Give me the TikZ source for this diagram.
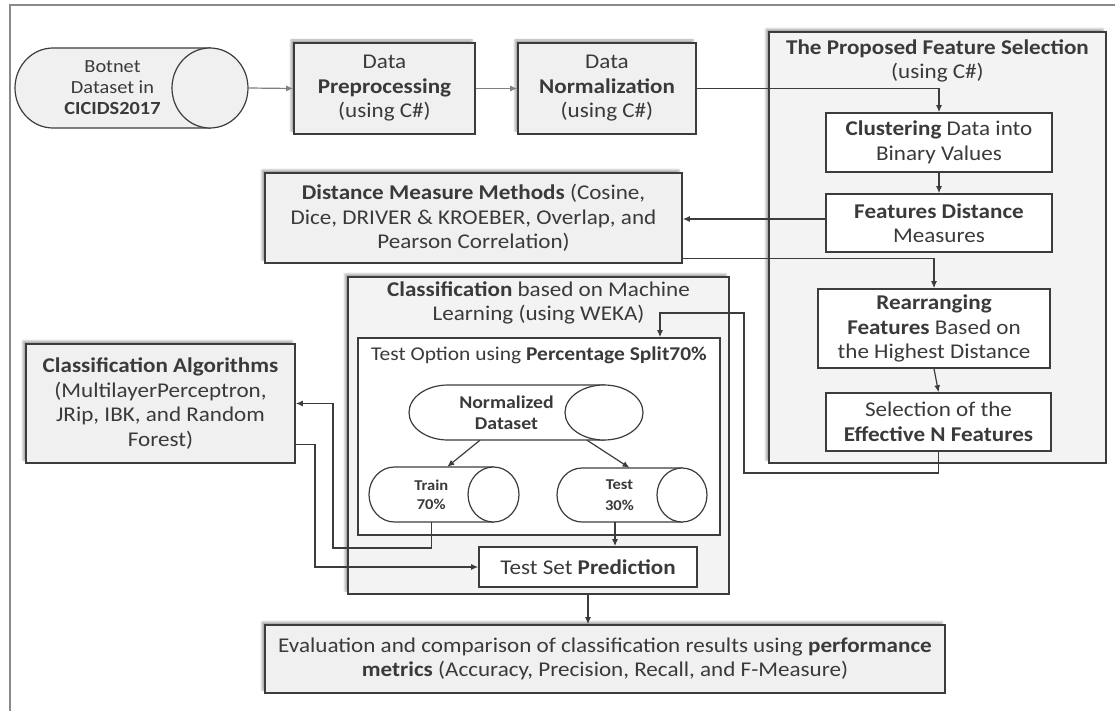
\documentclass[tikz,border=0pt]{standalone}
\usepackage{fontspec}
\setmainfont{Carlito}[FakeStretch=1.1]
\usetikzlibrary{positioning,arrows.meta,calc,shadows.blur}
\definecolor{flowline}{HTML}{3C3C3C}
\definecolor{flowtext}{HTML}{3A3A3A}
\definecolor{flowgray}{HTML}{F0F0F0}
\definecolor{flowpanel}{HTML}{F3F3F3}
\definecolor{flowframe}{HTML}{8A8A8A}
\newcommand{\bfkey}[1]{\textbf{#1}}
% drum outline: centre, length, diameter, end radius, fill
\newcommand{\drawdrum}[5]{%
  \draw[drumline, fill=#5] ($(#1)+({#2/2-#4},{-#3/2})$) -- ($(#1)+({-#2/2+#4},{-#3/2})$)
    arc[start angle=-90, end angle=-270, x radius=#4, y radius=#3/2]
    -- ($(#1)+({#2/2-#4},{#3/2})$) -- cycle;
  \draw[drumline, fill=#5] ($(#1)+({#2/2-#4},0)$) ellipse[x radius=#4, y radius=#3/2];
}
\tikzset{
  flowshadow/.style={blur shadow={shadow xshift=-3pt, shadow yshift=3pt, shadow blur steps=4, shadow opacity=35}},
  procbox/.style={draw=flowline, line width=1.6pt, fill=flowgray, align=center, inner sep=0pt,
    text=flowtext, font=\fontsize{21}{24.5}\selectfont, flowshadow},
  stepwhite/.style={draw=flowline, line width=1.6pt, fill=white, align=center, inner sep=0pt,
    text=flowtext, font=\fontsize{21}{24.5}\selectfont},
  panel/.style={draw=flowline, line width=1.6pt, fill=flowpanel, inner sep=0pt},
  paneltitle/.style={align=center, inner sep=0pt, text=flowtext, font=\fontsize{21}{24.5}\selectfont},
  drumline/.style={draw=flowline, line width=1.2pt},
  drumtext/.style={align=center, inner sep=0pt, text=flowtext},
  flowarrow/.style={draw=flowline, line width=1.2pt, -{Latex[length=7pt,width=6pt]}},
  lightarrow/.style={flowarrow, draw=black!50},
}

\begin{document}
\begin{tikzpicture}[x=1pt,y=-1pt]
  \useasboundingbox (0,0) rectangle (1115,711);
  \draw[flowframe, line width=2pt] (10,711) -- (10,5) -- (1115,5);

  % feature selection panel
  \node[panel, flowshadow, minimum width=337pt, minimum height=431pt] (prop) at (937.5,247.5) {};
  \node[paneltitle, below=8pt of prop.north] (proptitle) {\bfkey{The Proposed Feature Selection}\\(using C\#)};
  \node[stepwhite, minimum width=226pt, minimum height=59pt] (clus) at (939,142.5) {\bfkey{Clustering} Data into\\Binary Values};
  \node[stepwhite, minimum width=226pt, minimum height=58pt] (fdist) at (939,223) {\bfkey{Features Distance}\\Measures};
  \node[stepwhite, minimum width=232pt, minimum height=79pt] (rearr) at (934,328.5) {\bfkey{Rearranging}\\\bfkey{Features} Based on\\the Highest Distance};
  \node[stepwhite, minimum width=225pt, minimum height=58pt] (sel) at (938.5,422) {Selection of the\\\bfkey{Effective N Features}};

  % top row
  \coordinate (botnetc) at (131.5,88);
  \drawdrum{botnetc}{233}{80}{38}{flowgray}
  \node[drumtext, minimum width=195pt, minimum height=80pt, font=\fontsize{18.5}{21}\selectfont]
    (botnet) at (112.5,88) {Botnet\\Dataset in\\\bfkey{CICIDS2017}};
  \node[procbox, minimum width=181pt, minimum height=91pt] (prep) at (384.5,88.5) {Data\\\bfkey{Preprocessing}\\(using C\#)};
  \node[procbox, minimum width=178pt, minimum height=91pt] (norm) at (607,88.5) {Data\\\bfkey{Normalization}\\(using C\#)};
  \node[procbox, minimum width=417pt, minimum height=90pt] (dmm) at (473.5,218) {\bfkey{Distance Measure Methods} (Cosine,\\Dice, DRIVER \& KROEBER, Overlap, and\\Pearson Correlation)};

  % classification panel
  \node[panel, flowshadow, minimum width=381pt, minimum height=317pt] (cls) at (538.5,435.5) {};
  \node[paneltitle, below=5pt of cls.north] (clstitle) {\bfkey{Classification} based on Machine\\Learning (using WEKA)};
  \node[draw=flowline, line width=1.6pt, fill=white, minimum width=362pt, minimum height=197pt] (topt) at (539,436.5) {};
  \node[paneltitle, font=\fontsize{19.5}{23}\selectfont, below=9pt of topt.north] (topttitle) {Test Option using \bfkey{Percentage Split70\%}};

  \coordinate (ndsc) at (526,412.5);
  \drawdrum{ndsc}{234}{55}{39}{white}
  \node[drumtext, minimum width=195pt, minimum height=55pt, font=\bfseries\fontsize{18}{21}\selectfont]
    (nds) at (506.5,412.5) {Normalized\\Dataset};
  \coordinate (trainc) at (444,494.5);
  \drawdrum{trainc}{150}{55}{25.5}{white}
  \node[drumtext, minimum width=124.5pt, minimum height=55pt, font=\bfseries\fontsize{15}{19}\selectfont]
    (train) at (431.25,494.5) {Train\\70\%};
  \coordinate (testc) at (632,495);
  \drawdrum{testc}{150}{54}{25}{white}
  \node[drumtext, minimum width=125pt, minimum height=54pt, font=\bfseries\fontsize{15}{21}\selectfont]
    (test) at (619.5,495) {Test\\30\%};
  \node[stepwhite, minimum width=218pt, minimum height=40pt] (tsp) at (588,567) {Test Set \bfkey{Prediction}};

  \node[procbox, minimum width=269pt, minimum height=119pt] (alg) at (160.5,403.5) {\bfkey{Classification Algorithms}\\(MultilayerPerceptron,\\JRip, IBK, and Random\\Forest)};
  \node[procbox, minimum width=680pt, minimum height=68pt] (eval) at (605,659) {Evaluation and comparison of classification results using \bfkey{performance}\\\bfkey{metrics} (Accuracy, Precision, Recall, and F-Measure)};

  % bend points
  \coordinate (selbend) at (744,473);
  \coordinate (selin) at (660,313);
  \coordinate (trbend) at (333,548);
  \coordinate (algbend) at (315,567);

  % connectors
  \draw[lightarrow] ([xshift=38pt]botnet.east) -- (prep.west);
  \draw[lightarrow] (prep.east) -- (norm.west);
  \draw[flowarrow] (norm.east) -| (clus.north);
  \draw[flowarrow] (clus.south) -- (fdist.north);
  \draw[flowarrow] ([yshift=4pt]fdist.west) -- ([yshift=4pt]fdist.west -| dmm.east);
  \draw[flowarrow] ($(dmm.south east)+(0,-5)$) -| (rearr.north);
  \draw[flowarrow] (rearr.south) -- (sel.north);
  \draw[flowarrow] (sel.south) |- (selbend) |- (selin) -- (selin |- topt.north);
  \draw[flowarrow] ([xshift=-26.5pt]nds.south) -- ([xshift=16pt]train.north);
  \draw[flowarrow] ([xshift=80.5pt]nds.south) -- ([xshift=10pt]test.north);
  \draw[flowarrow] ([xshift=-4.5pt]test.south) -- ([xshift=-4.5pt]test.south |- tsp.north);
  \draw[flowarrow] (train.south) |- (trbend) |- (alg.east);
  \draw[flowarrow] ($(alg.east)+(0,41)$) -| (algbend) -- (tsp.west);
  \draw[flowarrow] (cls.south -| tsp.south) -- (tsp.south |- eval.north);
\end{tikzpicture}
\end{document}
